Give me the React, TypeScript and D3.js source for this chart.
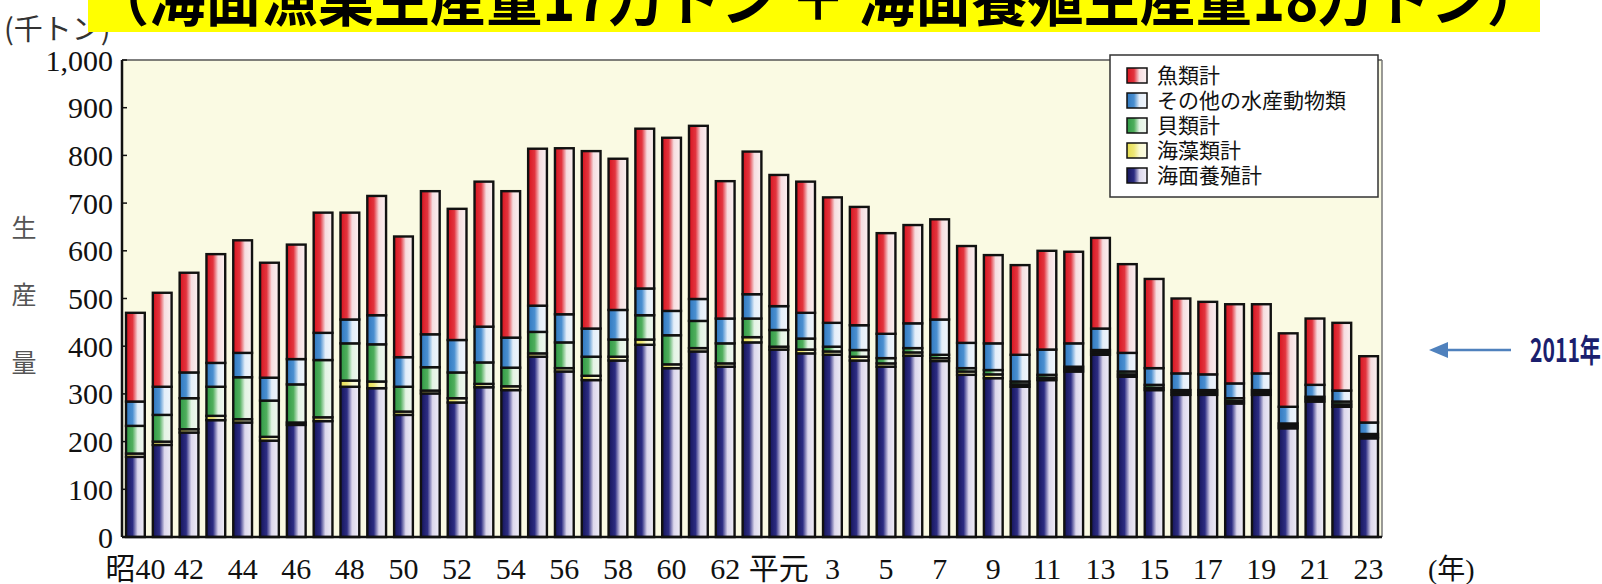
import React from 'react';
import * as d3 from 'd3';

const categories = ["昭40","41","42","43","44","45","46","47","48","49","50","51","52","53","54","55","56","57","58","59","60","61","62","63","平元","2","3","4","5","6","7","8","9","10","11","12","13","14","15","16","17","18","19","20","21","22","23"];
const tickLabels = ["昭40","42","44","46","48","50","52","54","56","58","60","62","平元","3","5","7","9","11","13","15","17","19","21","23"];
const yTicks = [0,100,200,300,400,500,600,700,800,900,1000];

// 海面養殖計
const aquaculture = [168,193,219,245,240,202,235,243,315,312,256,301,282,314,308,378,347,329,370,403,354,389,357,408,393,385,382,370,357,380,369,340,333,315,329,347,382,336,308,298,298,280,298,228,284,273,207];
// 海藻類計
const seaweed = [7,7,7,9,7,8,5,8,13,14,7,6,9,7,8,7,7,9,8,11,8,7,7,11,6,8,7,8,7,7,6,7,8,5,5,5,5,5,5,5,5,5,5,5,5,5,4];
// 貝類計
const shellfish = [58,56,65,61,88,76,80,120,78,78,52,49,54,45,39,45,54,40,36,51,61,57,42,39,35,23,10,14,11,9,7,7,9,6,6,5,5,6,6,5,5,6,5,5,5,6,5];
// その他の水産動物類
const otherAnimals = [51,59,54,50,51,48,53,57,50,61,62,69,68,75,63,55,59,59,62,56,51,46,52,51,50,54,50,52,51,52,74,53,56,56,53,49,45,39,35,35,33,31,35,35,25,23,24];
// 魚類計
const fish = [186,197,209,228,236,241,240,252,224,250,253,300,275,304,307,329,348,372,317,335,363,363,288,299,275,275,263,248,211,206,210,203,185,188,207,192,190,186,187,157,152,166,145,154,139,142,139];

const seriesKeys = ["aquaculture","seaweed","shellfish","otherAnimals","fish"];
const seriesNames: Record<string,string> = {
  fish: "魚類計",
  otherAnimals: "その他の水産動物類",
  shellfish: "貝類計",
  seaweed: "海藻類計",
  aquaculture: "海面養殖計",
};
const legendOrder = ["fish","otherAnimals","shellfish","seaweed","aquaculture"];

const gradStops: Record<string,[string,string,string,string]> = {
  fish: ["#d8141f","#e2343e","#f6dde0","#fbf1f1"],
  otherAnimals: ["#2f78c0","#4a8fd0","#e4eef9","#f1f6fc"],
  shellfish: ["#2f9a45","#4fae5c","#e3f3e4","#f1f8f0"],
  seaweed: ["#e6de50","#eee878","#fafad2","#fcfce6"],
  aquaculture: ["#15155a","#2c2c82","#dcd7ec","#efedf6"],
};

const W = 1602, H = 584;
const L = 122, R = 1382, T = 60, B = 537;

export default function App() {
  const rows = categories.map((c, i) => ({
    cat: c,
    aquaculture: aquaculture[i],
    seaweed: seaweed[i],
    shellfish: shellfish[i],
    otherAnimals: otherAnimals[i],
    fish: fish[i],
  }));
  const stack = d3.stack<any>().keys(seriesKeys)(rows);
  const x = d3.scaleBand<string>().domain(categories).range([L, R]).paddingInner(0.3).paddingOuter(0.15);
  const y = d3.scaleLinear().domain([0, 1000]).range([B, T]);
  const bw = x.bandwidth();
  const fmt = d3.format(",");
  const serif = "'Liberation Serif', 'Noto Sans CJK JP', serif";
  const cjk = "'Noto Sans CJK JP', sans-serif";

  return (
    <svg width={W} height={H} style={{ position: 'absolute', left: 0, top: 0, background: '#fff' }}>
      <defs>
        {seriesKeys.map(k => (
          <linearGradient key={k} id={`g-${k}`} x1="0" x2="1" y1="0" y2="0">
            <stop offset="0" stopColor={gradStops[k][0]} />
            <stop offset="0.35" stopColor={gradStops[k][1]} />
            <stop offset="0.62" stopColor={gradStops[k][2]} />
            <stop offset="1" stopColor={gradStops[k][3]} />
          </linearGradient>
        ))}
      </defs>
      <rect x={0} y={0} width={W} height={H} fill="#fff" />
      {/* unit label */}
      <text x={4} y={40} fontFamily={cjk} fontSize={29} fill="#333">(千トン)</text>
      {/* title banner */}
      <rect x={88} y={0} width={1452} height={32} fill="#ffff00" />
      <text x={93} y={21} fontFamily={cjk} fontWeight={700} fontSize={60} fill="#000"
        textLength={1450} lengthAdjust="spacingAndGlyphs">（海面漁業生産量17万トン ＋ 海面養殖生産量18万トン）</text>

      {/* plot background */}
      <rect x={L} y={T} width={R - L} height={B - T} fill="#fafae3" />

      {/* bars */}
      {stack.map(s => (
        <g key={s.key}>
          {s.map((d, i) => (
            <rect key={i}
              x={x(categories[i])}
              y={y(d[1])}
              width={bw}
              height={Math.max(0, y(d[0]) - y(d[1]))}
              fill={`url(#g-${s.key})`}
              stroke="#111"
              strokeWidth={2.4} />
          ))}
        </g>
      ))}

      {/* frame */}
      <line x1={L} x2={R} y1={T} y2={T} stroke="#555" strokeWidth={1.5} />
      <line x1={R} x2={R} y1={T} y2={B} stroke="#777" strokeWidth={1.5} />
      <line x1={L} x2={L} y1={T} y2={B} stroke="#111" strokeWidth={2.5} />
      <line x1={L} x2={R} y1={B} y2={B} stroke="#111" strokeWidth={2.5} />

      {/* y axis ticks and labels */}
      {yTicks.map(t => (
        <g key={t}>
          <line x1={L} x2={L + 5} y1={y(t)} y2={y(t)} stroke="#111" strokeWidth={1.5} />
          <text x={113} y={y(t)} dy="0.35em" textAnchor="end" fontFamily={serif} fontSize={30} fill="#111">{fmt(t)}</text>
        </g>
      ))}

      {/* y axis title */}
      {["生", "産", "量"].map((c, i) => (
        <text key={c} x={24} y={[228, 295, 363][i]} dy="0.35em" textAnchor="middle" fontFamily={cjk} fontSize={25} fill="#555">{c}</text>
      ))}

      {/* x labels */}
      {categories.filter(c => tickLabels.includes(c)).map(c => (
        <text key={c} x={(x(c) as number) + bw / 2} y={579} textAnchor="middle" fontFamily={serif} fontSize={30} fill="#111">{c}</text>
      ))}
      <text x={1428} y={579} fontFamily={serif} fontSize={28} fill="#111">(年)</text>

      {/* legend */}
      <rect x={1110} y={55} width={268} height={142} fill="#fff" stroke="#333" strokeWidth={1.5} />
      {legendOrder.map((k, i) => (
        <g key={k}>
          <rect x={1127} y={68 + i * 25} width={20} height={15} fill={`url(#g-${k})`} stroke="#111" strokeWidth={1.5} />
          <text x={1157} y={75.5 + i * 25} dy="0.36em" fontFamily={cjk} fontSize={21} fill="#111">{seriesNames[k]}</text>
        </g>
      ))}

      {/* 2011 annotation */}
      <line x1={1511} x2={1444} y1={350} y2={350} stroke="#4f81bd" strokeWidth={2.5} />
      <path d="M1429,350 L1448,342 L1448,358 Z" fill="#4f81bd" />
      <text transform="translate(1530,362) scale(0.66,1)" fontFamily={cjk} fontWeight={700} fontSize={32} fill="#1b1f6e">2011年</text>
    </svg>
  );
}
